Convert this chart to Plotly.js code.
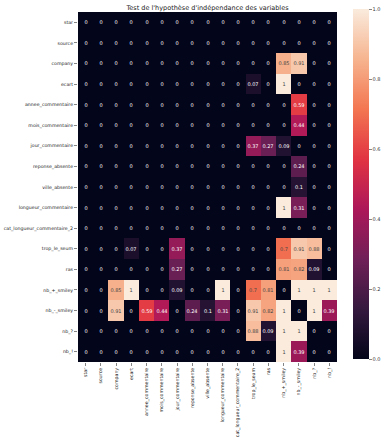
<!DOCTYPE html>
<html>
<head>
<meta charset="utf-8">
<script src="https://cdn.plot.ly/plotly-3.0.1.min.js"></script>
<style>html,body{margin:0;padding:0;background:#fff;}#chart{width:384px;height:448px;}</style>
</head>
<body>
<div id="chart"></div>
<script>
const labels = ["star","source","company","ecart","annee_commentaire","mois_commentaire","jour_commentaire","reponse_absente","ville_absente","longueur_commentaire","cat_longueur_commentaire_2","trop_le_seum","ras","nb_+_smiley","nb_-_smiley","nb_?","nb_!"];

const row_star = [0,0,0,0,0,0,0,0,0,0,0,0,0,0,0,0,0];
const row_source = [0,0,0,0,0,0,0,0,0,0,0,0,0,0,0,0,0];
const row_company = [0,0,0,0,0,0,0,0,0,0,0,0,0,0.85,0.91,0,0];
const row_ecart = [0,0,0,0,0,0,0,0,0,0,0,0.07,0,1,0,0,0];
const row_annee = [0,0,0,0,0,0,0,0,0,0,0,0,0,0,0.59,0,0];
const row_mois = [0,0,0,0,0,0,0,0,0,0,0,0,0,0,0.44,0,0];
const row_jour = [0,0,0,0,0,0,0,0,0,0,0,0.37,0.27,0.09,0,0,0];
const row_reponse = [0,0,0,0,0,0,0,0,0,0,0,0,0,0,0.24,0,0];
const row_ville = [0,0,0,0,0,0,0,0,0,0,0,0,0,0,0.1,0,0];
const row_longueur = [0,0,0,0,0,0,0,0,0,0,0,0,0,1,0.31,0,0];
const row_cat = [0,0,0,0,0,0,0,0,0,0,0,0,0,0,0,0,0];
const row_seum = [0,0,0,0.07,0,0,0.37,0,0,0,0,0,0,0.7,0.91,0.88,0];
const row_ras = [0,0,0,0,0,0,0.27,0,0,0,0,0,0,0.81,0.82,0.09,0];
const row_plus = [0,0,0.85,1,0,0,0.09,0,0,1,0,0.7,0.81,0,1,1,1];
const row_minus = [0,0,0.91,0,0.59,0.44,0,0.24,0.1,0.31,0,0.91,0.82,1,0,1,0.39];
const row_q = [0,0,0,0,0,0,0,0,0,0,0,0.88,0.09,1,1,0,0];
const row_excl = [0,0,0,0,0,0,0,0,0,0,0,0,0,1,0.39,0,0];

const z = [row_star,row_source,row_company,row_ecart,row_annee,row_mois,row_jour,row_reponse,row_ville,row_longueur,row_cat,row_seum,row_ras,row_plus,row_minus,row_q,row_excl];
const txt = z.map(r => r.map(v => String(v)));

const rocket = [
  [0.0,'#03051a'],
  [0.143,'#35193e'],
  [0.286,'#701f57'],
  [0.429,'#ad1759'],
  [0.571,'#e13342'],
  [0.714,'#f37651'],
  [0.857,'#f6b48f'],
  [1.0,'#faebdd']
];

const font = "DejaVu Sans, sans-serif";

Plotly.newPlot('chart', [{
  type: 'heatmap',
  z: z, x: labels, y: labels,
  text: txt, texttemplate: '%{text}',
  textfont: {size: 5, family: font},
  colorscale: rocket, zmin: 0, zmax: 1,
  colorbar: {
    thickness: 16, thicknessmode: 'pixels',
    len: 350, lenmode: 'pixels', y: 1 - 12/448, yanchor: 'top', yref: 'container',
    x: 353/384, xanchor: 'left', xref: 'container',
    xpad: 0, ypad: 0,
    outlinewidth: 0,
    tickvals: [0,0.2,0.4,0.6,0.8,1.0],
    ticktext: ['0.0','0.2','0.4','0.6','0.8','1.0'],
    ticks: 'outside', ticklen: 3, tickwidth: 0.6, tickcolor: '#333',
    tickfont: {size: 5, family: font, color: '#333'}
  },
  hoverinfo: 'none'
}], {
  width: 384, height: 448,
  margin: {l: 78, r: 47, t: 12, b: 86},
  paper_bgcolor: '#fff', plot_bgcolor: '#fff',
  font: {family: font, color: '#222'},
  title: {text: "Test de l'hypothèse d'indépendance des variables", font: {size: 6.5, family: font, color: '#222'},
          x: 0.5, xref: 'paper', xanchor: 'center', y: 1, yref: 'paper', yanchor: 'bottom', pad: {b: 2}},
  xaxis: {type: 'category', tickangle: -90, ticks: 'outside', ticklen: 3, tickwidth: 0.6, tickcolor: '#333', automargin: false,
          tickfont: {size: 4.7, family: font, color: '#222'}, showgrid: false, zeroline: false, showline: false},
  yaxis: {type: 'category', autorange: 'reversed', ticks: 'outside', ticklen: 3, tickwidth: 0.6, tickcolor: '#333', automargin: false,
          tickfont: {size: 4.7, family: font, color: '#222'}, showgrid: false, zeroline: false, showline: false}
}, {displayModeBar: false, staticPlot: true});
</script>
</body>
</html>
